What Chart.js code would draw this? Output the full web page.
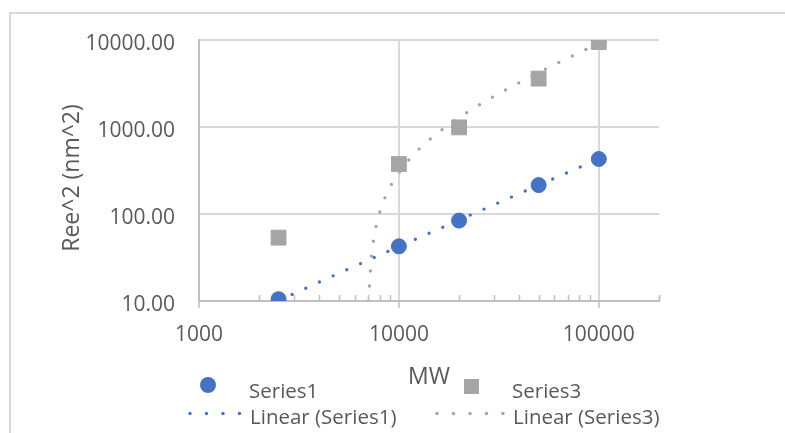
<!DOCTYPE html>
<html>
<head>
<meta charset="utf-8">
<script src="https://cdn.jsdelivr.net/npm/chart.js@4.4.0/dist/chart.umd.min.js"></script>
<style>
  html, body { margin: 0; padding: 0; background: #fff; }
  #wrap { position: relative; width: 785px; height: 433px; }
</style>
</head>
<body>
<div id="wrap"><canvas id="myChart" width="785" height="433"></canvas></div>
<script>
// data
const mw = [2500, 10000, 20000, 50000, 100000];
const series1 = [10.5, 42.5, 84, 215, 429];
const series3 = [53.5, 375, 990, 3600, 9480];
const yTicks = [10, 100, 1000, 10000];
const xMajor = [1000, 10000, 100000];

const textColor = '#595959';
const fontName = "'Open Sans', sans-serif";

// least squares fit y = a*x + b, like the Excel linear trendline
function linearFit(xs, ys) {
    let n = xs.length;
    let mx = xs.reduce((s, v) => s + v, 0) / n;
    let my = ys.reduce((s, v) => s + v, 0) / n;
    let sxy = 0, sxx = 0;
    for (let i = 0; i < n; i++) {
        sxy += (xs[i] - mx) * (ys[i] - my);
        sxx += (xs[i] - mx) * (xs[i] - mx);
    }
    let a = sxy / sxx;
    return { a: a, b: my - a * mx };
}

// trendline drawn over the x range of the data, cut at the bottom of the y axis
function trendPoints(xs, ys, yMin) {
    let fit = linearFit(xs, ys);
    let x0 = Math.min(...xs), x1 = Math.max(...xs);
    let xCut = (yMin - fit.b) / fit.a;
    if (xCut > x0) x0 = xCut;
    let pts = [];
    let steps = 80;
    for (let i = 0; i <= steps; i++) {
        let x = Math.pow(10, Math.log10(x0) + (Math.log10(x1) - Math.log10(x0)) * i / steps);
        pts.push({ x: x, y: Math.max(fit.a * x + fit.b, yMin) });
    }
    return pts;
}

function toPoints(xs, ys) {
    return xs.map((x, i) => ({ x: x, y: ys[i] }));
}

function isMajor(v) {
    let l = Math.log10(v);
    return Math.abs(l - Math.round(l)) < 1e-9;
}

let xTickValues = [];
for (let d = 1000; d <= 100000; d *= 10) {
    for (let m = 1; m <= 9; m++) xTickValues.push(m * d);
}
xTickValues = xTickValues.filter(v => v <= 200000);
xTickValues.push(200000);

const extras = {
    id: 'extras',
    beforeDraw(chart) {
        let ctx = chart.ctx;
        ctx.save();
        ctx.fillStyle = '#fff';
        ctx.fillRect(0, 0, chart.width, chart.height);
        ctx.restore();
    },
    afterDraw(chart) {
        let ctx = chart.ctx;
        let area = chart.chartArea;
        let xs = chart.scales.x;
        ctx.save();

        // outer frame
        ctx.strokeStyle = '#d9d9d9';
        ctx.lineWidth = 2;
        ctx.strokeRect(10, 13, 900, 600);

        // minor tick marks, pointing up into the plot
        ctx.strokeStyle = '#bfbfbf';
        ctx.lineWidth = 1.5;
        xTickValues.forEach(v => {
            if (isMajor(v)) return;
            let px = Math.round(xs.getPixelForValue(v)) + 0.5;
            ctx.beginPath();
            ctx.moveTo(px, area.bottom);
            ctx.lineTo(px, area.bottom - 6);
            ctx.stroke();
        });

        ctx.fillStyle = textColor;

        // axis titles
        ctx.font = '23px ' + fontName;
        ctx.textAlign = 'center';
        ctx.textBaseline = 'alphabetic';
        ctx.fillText('MW', (area.left + area.right) / 2, 384);
        ctx.save();
        ctx.translate(79, 178);
        ctx.rotate(-Math.PI / 2);
        ctx.fillText('Ree^2 (nm^2)', 0, 0);
        ctx.restore();

        // legend
        ctx.font = '20.5px ' + fontName;
        ctx.textAlign = 'left';
        ctx.fillStyle = '#4472C4';
        ctx.beginPath();
        ctx.arc(208, 385, 8, 0, Math.PI * 2);
        ctx.fill();
        ctx.fillStyle = '#A5A5A5';
        ctx.fillRect(464, 379, 15, 15);

        ctx.fillStyle = textColor;
        ctx.fillText('Series1', 249, 398);
        ctx.fillText('Series3', 512, 398);
        ctx.fillText('Linear (Series1)', 250, 424);
        ctx.fillText('Linear (Series3)', 513, 424);

        [['#4472C4', 190, 4], ['#A5A5A5', 437, 5]].forEach(([c, x0, n]) => {
            ctx.fillStyle = c;
            for (let i = 0; i < n; i++) {
                ctx.beginPath();
                ctx.arc(x0 + i * 16.5, 413.5, 1.7, 0, Math.PI * 2);
                ctx.fill();
            }
        });
        ctx.restore();
    }
};

let ctx = document.getElementById('myChart').getContext('2d');
let myChart = new Chart(ctx, {
    type: 'scatter',
    data: {
        datasets: [{
            label: 'Linear (Series1)',
            data: trendPoints(mw, series1, yTicks[0]),
            showLine: true,
            pointRadius: 0,
            borderColor: '#4472C4',
            borderWidth: 3.4,
            borderDash: [0, 15],
            borderCapStyle: 'round',
            order: 1
        }, {
            label: 'Linear (Series3)',
            data: trendPoints(mw, series3, yTicks[0]),
            showLine: true,
            pointRadius: 0,
            borderColor: '#A5A5A5',
            borderWidth: 3.4,
            borderDash: [0, 15],
            borderCapStyle: 'round',
            order: 1
        }, {
            label: 'Series1',
            data: toPoints(mw, series1),
            pointStyle: 'circle',
            pointRadius: 7.5,
            backgroundColor: '#4472C4',
            borderColor: '#4472C4',
            borderWidth: 1,
            order: 2
        }, {
            label: 'Series3',
            data: toPoints(mw, series3),
            pointStyle: 'rect',
            pointRadius: 10.5,
            backgroundColor: '#A5A5A5',
            borderColor: '#A5A5A5',
            borderWidth: 1,
            order: 2
        }]
    },
    options: {
        responsive: false,
        animation: false,
        layout: { padding: { top: 40, right: 126, bottom: 0, left: 0 } },
        plugins: {
            legend: { display: false },
            tooltip: { enabled: false }
        },
        scales: {
            x: {
                type: 'logarithmic',
                min: 1000,
                max: 200000,
                afterBuildTicks: s => { s.ticks = xTickValues.map(v => ({ value: v })); },
                afterFit: s => { s.height = 132; },
                ticks: {
                    autoSkip: false,
                    maxRotation: 0,
                    padding: 14,
                    color: textColor,
                    font: { family: fontName, size: 21 },
                    callback: v => xMajor.includes(v) ? String(v) : ''
                },
                grid: {
                    color: c => (c.tick && isMajor(c.tick.value)) ? '#d9d9d9' : 'rgba(0,0,0,0)',
                    lineWidth: 2,
                    tickLength: 7,
                    tickColor: c => (c.tick && isMajor(c.tick.value)) ? '#bfbfbf' : 'rgba(0,0,0,0)',
                    tickWidth: 1.5
                },
                border: { color: '#bfbfbf', width: 2 }
            },
            y: {
                type: 'logarithmic',
                min: 10,
                max: 10000,
                afterBuildTicks: s => { s.ticks = yTicks.map(v => ({ value: v })); },
                afterFit: s => { s.width = 199; },
                ticks: {
                    padding: 24,
                    labelOffset: 4,
                    color: textColor,
                    font: { family: fontName, size: 21 },
                    callback: v => Number(v).toFixed(2)
                },
                grid: { color: '#d9d9d9', lineWidth: 2, drawTicks: false },
                border: { color: '#bfbfbf', width: 2 }
            }
        }
    },
    plugins: [extras]
});
</script>
</body>
</html>
